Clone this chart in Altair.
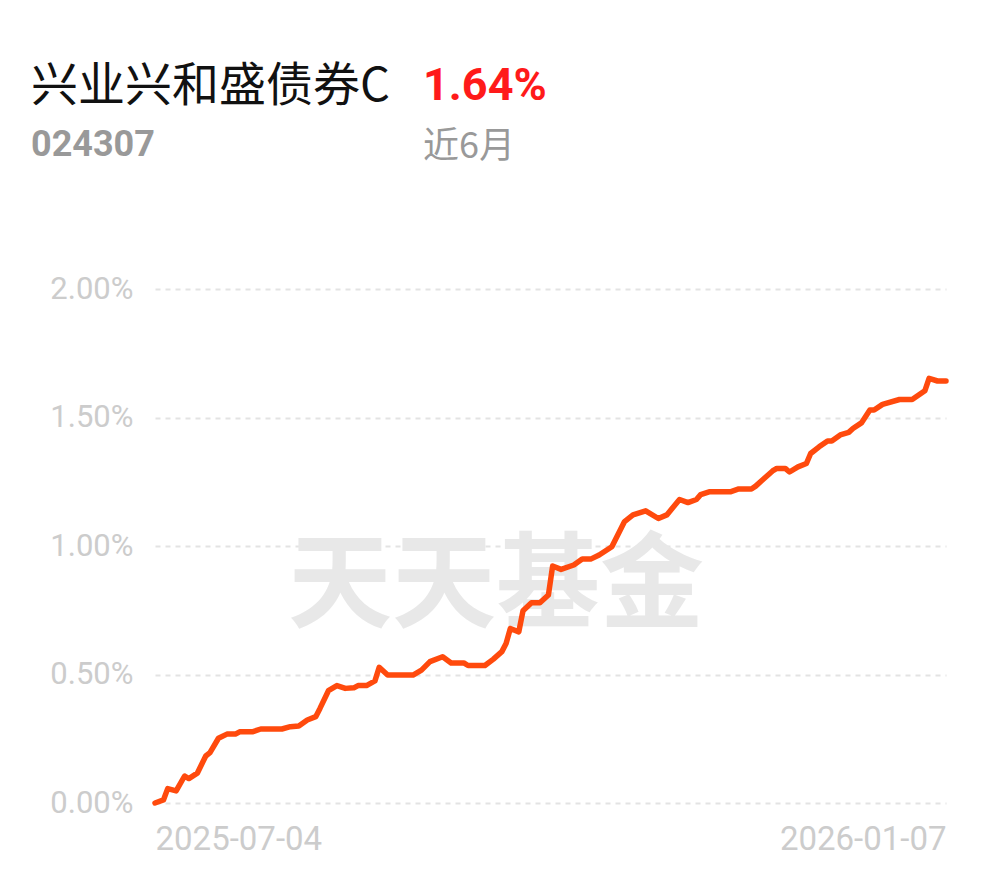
import altair as alt
import pandas as pd

# day offsets since 2025-07-04 and cumulative return (%)
day_offsets = [0, 2, 3, 5, 7, 8, 10, 12, 13, 15, 17, 19, 20, 23, 25, 30, 32, 34, 36, 38,
               39, 41, 43, 45, 47, 48, 50, 52, 53, 55, 61, 63, 65, 68, 70, 73, 74, 78, 80, 82,
               83, 84, 86, 87, 89, 91, 93, 94, 96, 99, 101, 103, 105, 108, 111, 113, 116, 119, 121, 124,
               126, 128, 129, 131, 136, 138, 141, 142, 144, 146, 147, 149, 150, 152, 154, 155, 157, 159, 160, 162,
               164, 165, 167, 169, 170, 172, 176, 179, 182, 183, 185, 187]
returns = [0.000, 0.012, 0.056, 0.047, 0.105, 0.095, 0.116, 0.183, 0.196, 0.252, 0.268, 0.268, 0.277, 0.277, 0.288, 0.288, 0.297, 0.300, 0.323, 0.336,
           0.368, 0.437, 0.457, 0.446, 0.448, 0.457, 0.457, 0.475, 0.528, 0.498, 0.498, 0.517, 0.550, 0.569, 0.545, 0.545, 0.535, 0.535, 0.560, 0.589,
           0.621, 0.679, 0.666, 0.748, 0.779, 0.779, 0.809, 0.922, 0.909, 0.926, 0.949, 0.949, 0.965, 0.997, 1.095, 1.121, 1.137, 1.107, 1.121, 1.181,
           1.169, 1.181, 1.200, 1.211, 1.211, 1.222, 1.222, 1.233, 1.263, 1.292, 1.302, 1.302, 1.288, 1.308, 1.321, 1.360, 1.386, 1.409, 1.409, 1.432,
           1.442, 1.457, 1.479, 1.529, 1.529, 1.551, 1.570, 1.570, 1.604, 1.652, 1.642, 1.642]

x_labels = ["2025-07-04", "2026-01-07"]
y_ticks = [0, 0.5, 1.0, 1.5, 2.0]

fund_name = "兴业兴和盛债券C"
fund_code = "024307"
period_return = "1.64%"
period_label = "近6月"
watermark = "天天基金"

df = pd.DataFrame({"day": day_offsets, "ret": returns})
last_day = day_offsets[-1]

W, H = 791, 514

x_enc = alt.X("day:Q",
              scale=alt.Scale(domain=[0, last_day], nice=False, zero=False),
              axis=alt.Axis(values=[0, last_day], title=None, grid=False, domain=False, ticks=False,
                            labelExpr=f"datum.value == 0 ? '{x_labels[0]}' : '{x_labels[1]}'",
                            labelAlign=alt.ExprRef("datum.value == 0 ? 'left' : 'right'"),
                            labelFontSize=33, labelColor="#cccccc", labelFont="Roboto",
                            labelPadding=20, labelFlush=False))
y_enc = alt.Y("ret:Q",
              scale=alt.Scale(domain=[0, 2], nice=False),
              axis=alt.Axis(values=y_ticks, title=None, domain=False, ticks=False,
                            labelExpr="format(datum.value, '.2f') + '%'",
                            labelFontSize=31, labelColor="#cccccc", labelFont="Roboto",
                            labelPadding=22, gridColor="#e3e3e3", gridDash=[5, 5], gridWidth=2))

wm = alt.Chart(pd.DataFrame({"t": [watermark]})).mark_text(
    font="Noto Sans CJK SC", fontSize=104, fontWeight="bold", color="#e8e8e8",
    align="center", baseline="middle"
).encode(x=alt.value(341), y=alt.value(300), text="t:N")

line = alt.Chart(df).mark_line(color="#ff4a0d", strokeWidth=5.5, strokeJoin="round", strokeCap="round").encode(
    x=x_enc, y=y_enc)

def txt(s, x, y, size, color, weight="normal", font="Noto Sans CJK SC"):
    return alt.Chart(pd.DataFrame({"t": [s]})).mark_text(
        font=font, fontSize=size, fontWeight=weight, color=color, align="left", baseline="middle"
    ).encode(x=alt.value(x), y=alt.value(y), text="t:N")

t1 = txt(fund_name, -124, -202, 47, "#111111")
t2 = txt(period_return, 268, -203, 45, "#ff1a1a", "bold", "Roboto")
t3 = txt(fund_code, -124, -144, 36, "#999999", "bold", "Roboto")
t4 = txt(period_label, 268, -142, 36, "#999999")

chart = alt.layer(wm, line, t1, t2, t3, t4).properties(
    width=W, height=H,
    autosize=alt.AutoSizeParams(type="none"),
    padding={"left": 147, "top": 281, "right": 30, "bottom": 60},
).configure(background="white", view=alt.ViewConfig(stroke=None))

chart.save("out.html", embed_options={"renderer": "svg", "actions": False})
